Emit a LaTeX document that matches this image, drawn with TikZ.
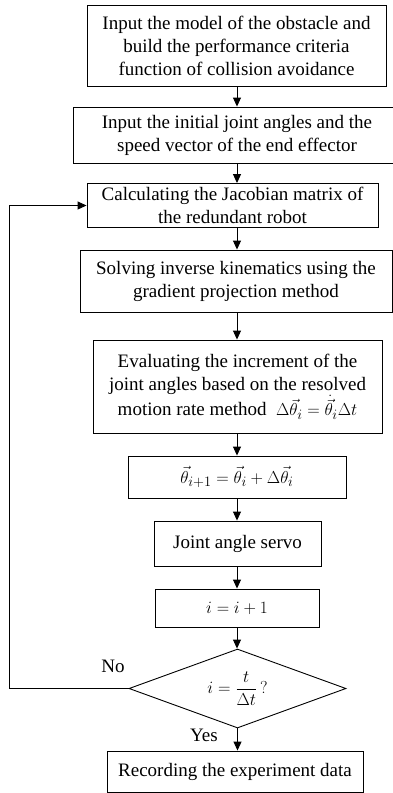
\documentclass[tikz,border=0pt]{standalone}
\usepackage{amsmath}
\usepackage{fontspec}
\setmainfont{Liberation Serif}
\usepackage{tikz}
\usetikzlibrary{shapes.geometric, arrows.meta, positioning}

\begin{document}
\begin{tikzpicture}[
    x=1pt, y=-1pt,
    >={Triangle[length=9pt, width=8pt]},
    every node/.style={font=\fontsize{19}{23}\selectfont},
    block/.style={rectangle, draw=black, line width=0.9pt, align=center, inner sep=2pt},
    decision/.style={diamond, draw=black, line width=0.9pt, aspect=2.75, inner sep=0pt, minimum width=217pt, minimum height=79pt},
    flow/.style={->, line width=0.9pt}
]
\useasboundingbox (0,0) rectangle (393,793);
\clip (0,0) rectangle (393,793);
\coordinate (spine) at (237,0);
\coordinate (loopX) at (9,0);

\node[block, minimum width=299pt, minimum height=81pt] (obstacleModel) at (236.5,45.5) {Input the model of the obstacle and\\build the performance criteria\\function of collision avoidance};
\node[block, minimum width=328pt, minimum height=56pt] (initAngles) at (237,135) {Input the initial joint angles and the\\speed vector of the end effector};
\node[block, minimum width=291pt, minimum height=44pt] (jacobian) at (232.5,205.5) {Calculating the Jacobian matrix of\\the redundant robot};
\node[block, minimum width=312pt, minimum height=62pt] (inverseKin) at (236,281) {Solving inverse kinematics using the\\gradient projection method};
\node[block, minimum width=289pt, minimum height=93pt] (increment) at (237.5,386.5) {Evaluating the increment of the\\joint angles based on the resolved\\motion rate method\ \ $\Delta\vec{\theta}_i = \dot{\vec{\theta}}_i\Delta t$};
\node[block, minimum width=218pt, minimum height=42pt] (update) at (237,477) {$\vec{\theta}_{i+1} = \vec{\theta}_i + \Delta\vec{\theta}_i$};
\node[block, minimum width=167pt, minimum height=45pt] (servo) at (237.5,543.5) {Joint angle servo};
\node[block, minimum width=164pt, minimum height=38pt] (counter) at (237,608) {$i = i + 1$};
\node[decision] (check) at (237.5,688.5) {$i = \dfrac{t}{\Delta t}\,?$};
\node[block, minimum width=256pt, minimum height=41pt] (record) at (235,771.5) {Recording the experiment data};

\node (noLabel) at (113,666) {No};
\node (yesLabel) at (204,735) {Yes};

\draw[flow] (obstacleModel.south -| spine) -- (initAngles.north -| spine);
\draw[flow] (initAngles.south -| spine) -- (jacobian.north -| spine);
\draw[flow] (jacobian.south -| spine) -- (inverseKin.north -| spine);
\draw[flow] (inverseKin.south -| spine) -- (increment.north -| spine);
\draw[flow] (increment.south -| spine) -- (update.north -| spine);
\draw[flow] (update.south -| spine) -- (servo.north -| spine);
\draw[flow] (servo.south -| spine) -- (counter.north -| spine);
\draw[flow] (counter.south -| spine) -- (check.north -| spine);
\draw[flow] (check.south) -- (record.north -| check.south);

% back to the Jacobian step when the loop is not finished
\draw[flow] (check.west) -- (check.west -| loopX) |- (jacobian.west);
\end{tikzpicture}
\end{document}
